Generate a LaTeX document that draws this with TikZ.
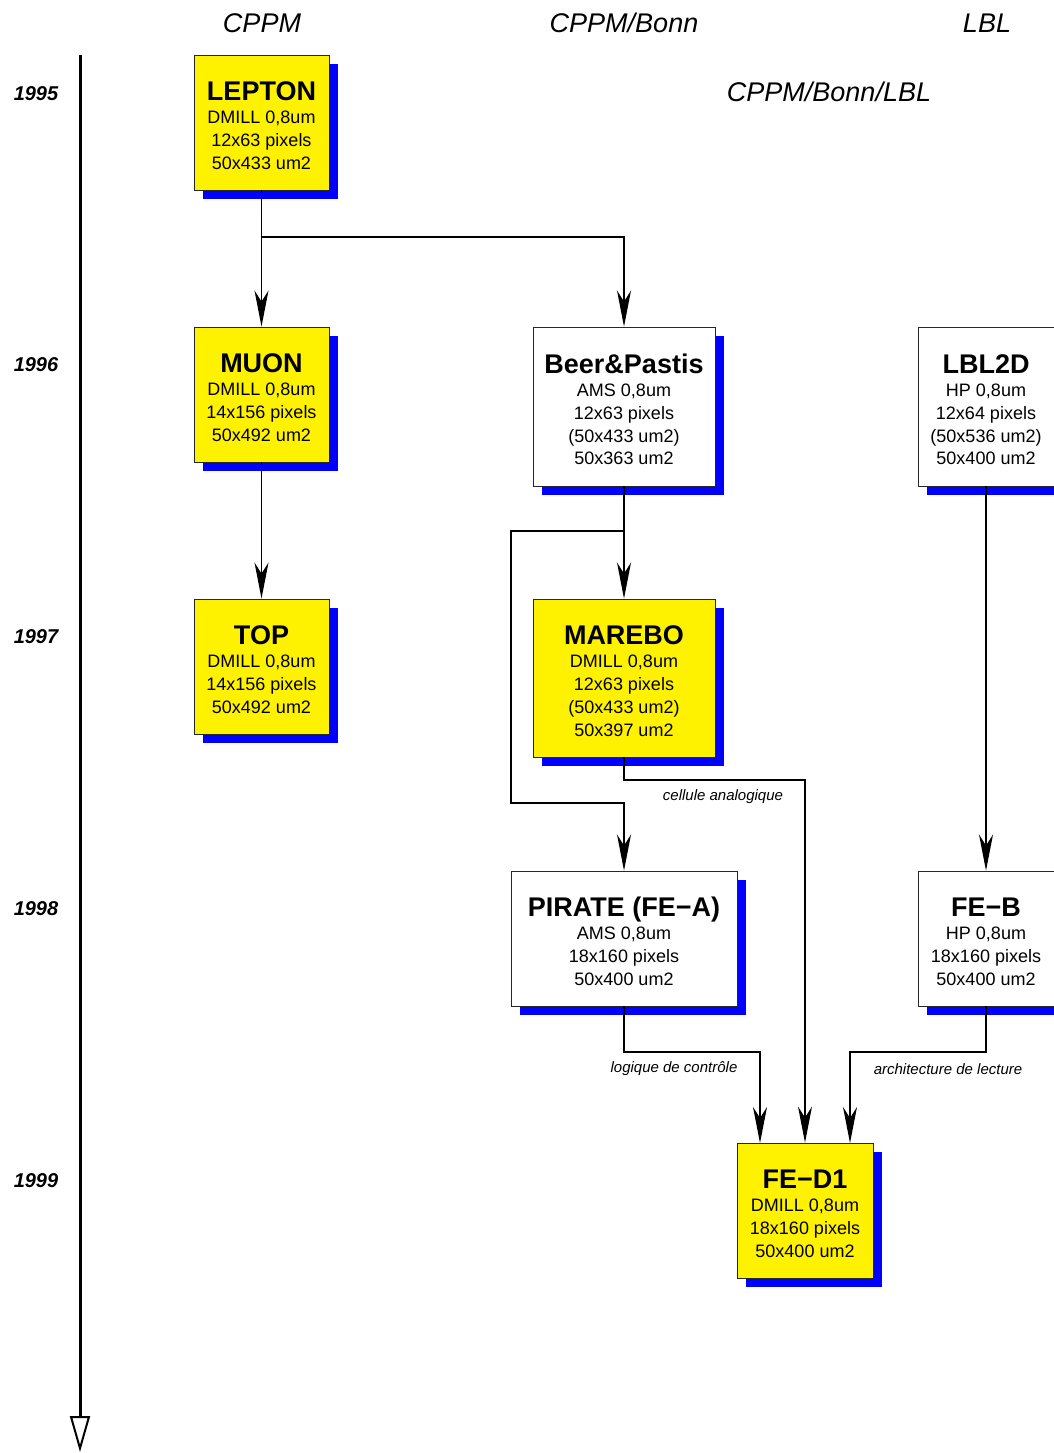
\documentclass[tikz,border=0pt]{standalone}
\usepackage{fontspec}
\setmainfont{Liberation Sans}
\usetikzlibrary{arrows.meta,shadows}
\begin{document}
\begin{tikzpicture}[x=1pt,y=-1pt,
  chip/.style={draw=black!85,line width=0.9pt,inner sep=0pt,align=center,
    font=\fontsize{18}{22.9}\selectfont,
    drop shadow={shadow xshift=9pt,shadow yshift=-9pt,fill=blue,opacity=1}},
  ychip/.style={chip,fill=yellow},
  wchip/.style={chip,fill=white},
  sq/.style={minimum width=135pt,minimum height=135pt},
  conn/.style={line width=1.2pt,-{Stealth[length=36pt,width=14pt,inset=11pt]}},
  yearlbl/.style={font=\fontsize{20}{20}\selectfont\bfseries\itshape},
  headlbl/.style={font=\fontsize{27}{27}\selectfont\itshape},
  clbl/.style={font=\fontsize{15}{15}\selectfont\itshape},
]
\newcommand{\ttl}[1]{{\fontsize{27}{27}\selectfont\bfseries\rule{0pt}{25.5pt}#1}}
\useasboundingbox (0,0) rectangle (1054,1453);
\clip (0,0) rectangle (1054,1453);
\fill[white] (0,0) rectangle (1054,1453);

% headers
\node[headlbl] (hcppm) at (262,23) {CPPM};
\node[headlbl] (hbonn) at (624,23) {CPPM/Bonn};
\node[headlbl] (hlbl) at (987,23) {LBL};
\node[headlbl] (hall) at (829,92) {CPPM/Bonn/LBL};

% years
\node[yearlbl] (y95) at (36,94) {1995};
\node[yearlbl] (y96) at (36,365) {1996};
\node[yearlbl] (y97) at (36,637) {1997};
\node[yearlbl] (y98) at (36,909) {1998};
\node[yearlbl] (y99) at (36,1181) {1999};

% time axis
\coordinate (axtop) at (80,55);
\coordinate (axbot) at (80,1452);
\draw[line width=3pt,-{Triangle[open,length=36pt,width=20pt,line width=2pt]}] (axtop) -- (axbot);

% chips
\node[ychip,sq] (lepton) at (261.5,122.5) {\ttl{LEPTON}\\DMILL 0,8um\\12x63 pixels\\50x433 um2};
\node[ychip,sq] (muon) at (261.5,394.5) {\ttl{MUON}\\DMILL 0,8um\\14x156 pixels\\50x492 um2};
\node[ychip,sq] (top) at (261.5,666.5) {\ttl{TOP}\\DMILL 0,8um\\14x156 pixels\\50x492 um2};
\node[wchip,minimum width=182pt,minimum height=159pt] (beer) at (624,406.5) {\ttl{Beer\&Pastis}\\AMS 0,8um\\12x63 pixels\\(50x433 um2)\\50x363 um2};
\node[ychip,minimum width=182pt,minimum height=158pt] (marebo) at (624,678) {\ttl{MAREBO}\\DMILL 0,8um\\12x63 pixels\\(50x433 um2)\\50x397 um2};
\node[wchip,minimum width=136pt,minimum height=159pt] (lbl2d) at (986,406.5) {\ttl{LBL2D}\\HP 0,8um\\12x64 pixels\\(50x536 um2)\\50x400 um2};
\node[wchip,minimum width=226pt,minimum height=135pt] (pirate) at (624,938.5) {\ttl{PIRATE (FE−A)}\\AMS 0,8um\\18x160 pixels\\50x400 um2};
\node[wchip,minimum width=136pt,minimum height=135pt] (feb) at (986,938.5) {\ttl{FE−B}\\HP 0,8um\\18x160 pixels\\50x400 um2};
\node[ychip,minimum width=136pt,minimum height=135pt] (fed1) at (805,1210.5) {\ttl{FE−D1}\\DMILL 0,8um\\18x160 pixels\\50x400 um2};

% connectors
\coordinate (j1) at (261.5,237);
\draw[conn] (lepton.south) -- (muon.north);
\draw[conn] (j1) -| (beer.north);
\draw[conn] (muon.south) -- (top.north);
\draw[conn] (beer.south) -- (marebo.north);
\coordinate (j2) at (624,531);
\coordinate (j2a) at (511,531);
\coordinate (j2b) at (511,803);
\draw[conn] (j2) -- (j2a) -- (j2b) -| (pirate.north);
\coordinate (j3) at (624,780);
\draw[conn] (marebo.south) -- (j3) -| (fed1.north);
\draw[conn] (lbl2d.south) -- (feb.north);
\coordinate (j4) at (624,1052);
\coordinate (j4t) at (760,1143);
\draw[conn] (pirate.south) -- (j4) -| (j4t);
\coordinate (j5) at (986,1052);
\coordinate (j5t) at (850,1143);
\draw[conn] (feb.south) -- (j5) -| (j5t);

% connector labels
\node[clbl] (lcell) at (723,797) {cellule analogique};
\node[clbl] (llog) at (674,1069) {logique de contrôle};
\node[clbl] (larch) at (948,1069) {architecture de lecture};
\end{tikzpicture}
\end{document}
